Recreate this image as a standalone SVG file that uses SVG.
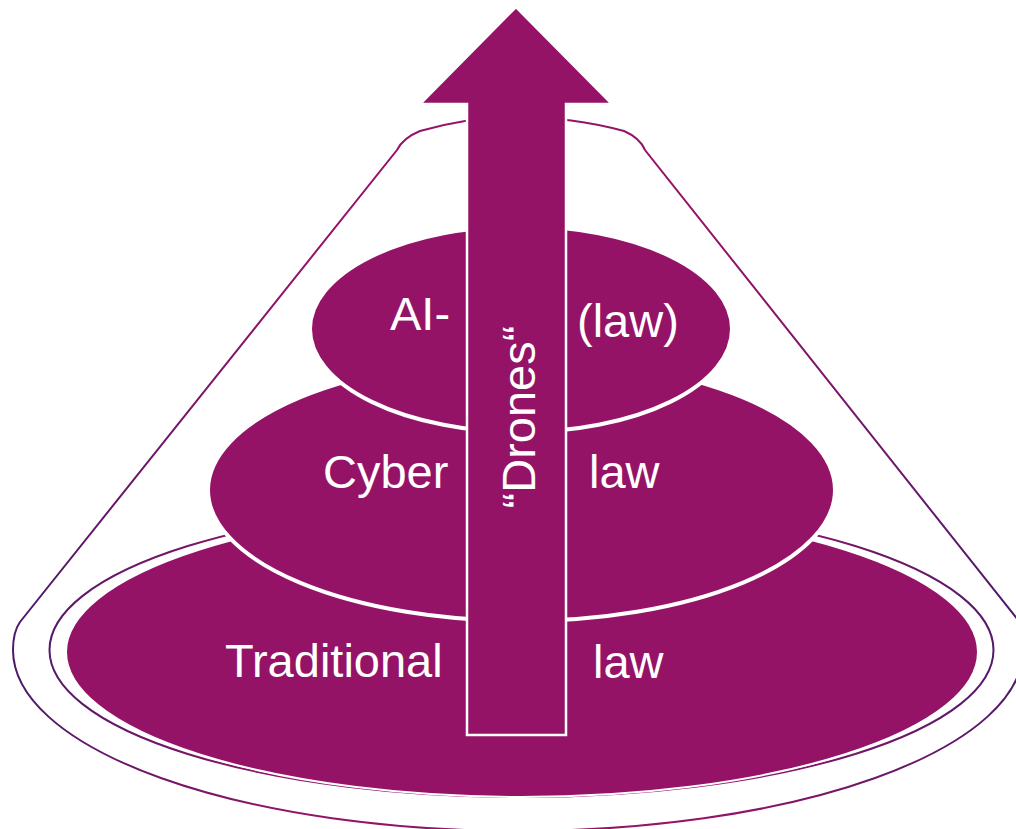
<svg xmlns="http://www.w3.org/2000/svg" width="1016" height="829" viewBox="0 0 1016 829">
<defs>
<linearGradient id="edge" gradientUnits="userSpaceOnUse" x1="0" y1="0" x2="1016" y2="0">
<stop offset="0" stop-color="#4a1a6a"/>
<stop offset="0.3" stop-color="#951367"/>
<stop offset="0.7" stop-color="#951367"/>
<stop offset="1" stop-color="#4f1a6a"/>
</linearGradient>
<style>
.fill{fill:#951367}
.layer{fill:#951367;stroke:#fff;stroke-width:4}
.edge{fill:none;stroke:url(#edge);stroke-width:2}
.lbl{fill:#fff;font-family:"Liberation Sans",Arial,sans-serif;font-size:47px}
</style>
</defs>
<g id="cone">
<path class="edge" d="M 397 150 Q 403 138 420 131 Q 470 117 516 117 Q 572 117 624 131 Q 640 138 645 150 L 1018 620 Q 1023 632 1023 650 A 505 181 0 0 1 13 650 Q 13 632 20 622 Z"/>
<ellipse class="edge" cx="521.5" cy="650" rx="472" ry="147"/>
</g>
<g id="traditional-law">
<ellipse class="fill" cx="522" cy="652" rx="456" ry="145" stroke="#fff" stroke-width="2"/>
<text class="lbl" x="225" y="677">Traditional</text>
<text class="lbl" x="593" y="678">law</text>
</g>
<g id="cyber-law">
<ellipse class="layer" cx="521.5" cy="490" rx="313.5" ry="131"/>
<text class="lbl" x="323" y="488">Cyber</text>
<text class="lbl" x="589" y="488">law</text>
</g>
<g id="ai-law">
<ellipse class="layer" cx="521" cy="329" rx="211" ry="103"/>
<text class="lbl" x="390" y="330">AI-</text>
<text class="lbl" x="577" y="337">(law)</text>
</g>
<g id="drones-arrow">
<path class="fill" stroke="#fff" stroke-width="2.5" d="M 516 7 L 612 104 L 566 104 L 566 735 L 467 735 L 467 104 L 420 104 Z"/>
<text class="lbl" text-anchor="middle" transform="translate(535,417) rotate(-90)">“Drones“</text>
</g>
<g id="connectors"/>
</svg>
